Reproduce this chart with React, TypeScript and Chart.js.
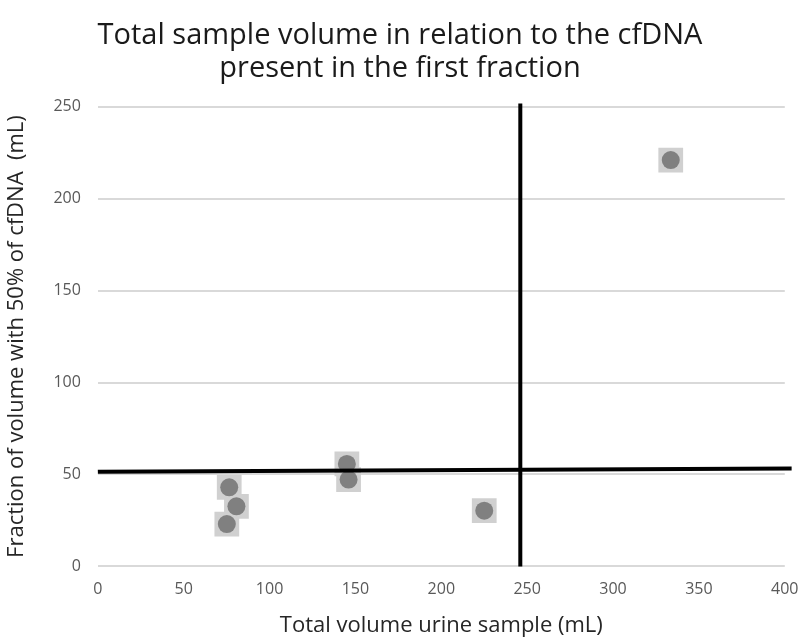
import React, { useEffect, useRef } from "react";
import { Chart, registerables } from "chart.js";

Chart.register(...registerables);

const titleLines = ["Total sample volume in relation to the cfDNA", "present in the first fraction"];
const xAxisTitle = "Total volume urine sample (mL)";
const yAxisTitle = "Fraction of volume with 50% of cfDNA  (mL)";

const sampleX = [76.5, 80.7, 75.1, 145, 146, 225, 333.6];
const sampleY = [43, 32.7, 23, 55.7, 47.2, 30.3, 221];

const verticalLineX = [246, 246];
const verticalLineY = [0, 251.8];
const horizontalLineX = [0, 404];
const horizontalLineY = [51.5, 53.2];

const FONT = "'Open Sans', sans-serif";

export default function App() {
  const ref = useRef<HTMLCanvasElement | null>(null);
  useEffect(() => {
    if (!ref.current) return;
    const pts = sampleX.map((x, i) => ({ x, y: sampleY[i] }));
    const chart = new Chart(ref.current, {
      type: "scatter",
      data: {
        datasets: [
          {
            label: "vline",
            data: verticalLineX.map((x, i) => ({ x, y: verticalLineY[i] })),
            showLine: true,
            borderColor: "#000000",
            borderWidth: 4,
            pointRadius: 0,
            clip: false,
            order: 0,
          },
          {
            label: "hline",
            data: horizontalLineX.map((x, i) => ({ x, y: horizontalLineY[i] })),
            showLine: true,
            borderColor: "#000000",
            borderWidth: 4,
            pointRadius: 0,
            clip: false,
            order: 0,
          },
          {
            label: "circle",
            data: pts,
            pointStyle: "circle",
            pointRadius: 9,
            backgroundColor: "#808080",
            borderWidth: 0,
            order: 1,
          },
          {
            label: "square",
            data: pts,
            pointStyle: "rect",
            pointRadius: 17.5,
            backgroundColor: "#d0d0d0",
            borderWidth: 0,
            order: 2,
          },
        ],
      },
      options: {
        animation: false,
        responsive: false,
        layout: { padding: { left: 0, right: 12, top: 0, bottom: 0 } },
        plugins: {
          legend: { display: false },
          tooltip: { enabled: false },
          title: {
            display: true,
            text: titleLines,
            color: "#1a1a1a",
            font: { family: FONT, size: 29, weight: "normal", lineHeight: 1.15 },
            padding: { top: 19, bottom: 21 },
          },
        },
        scales: {
          x: {
            type: "linear",
            min: 0,
            max: 400,
            ticks: { stepSize: 50, color: "#595959", font: { family: FONT, size: 16 }, padding: 13.5 },
            grid: { display: false, drawTicks: false },
            border: { display: false },
            title: {
              display: true,
              text: xAxisTitle,
              color: "#262626",
              font: { family: FONT, size: 22, lineHeight: 1.2 },
              padding: { top: 0, bottom: 0 },
            },
          },
          y: {
            type: "linear",
            min: 0,
            max: 250,
            ticks: { stepSize: 50, color: "#595959", font: { family: FONT, size: 16 }, padding: 17 },
            grid: { color: "#d9d9d9", lineWidth: 2, drawTicks: false },
            border: { display: false },
            title: {
              display: true,
              text: yAxisTitle,
              color: "#262626",
              font: { family: FONT, size: 22, lineHeight: 1.2 },
              padding: { top: 4, bottom: 6 },
            },
          },
        },
      },
    });
    return () => chart.destroy();
  }, []);
  return (
    <div style={{ position: "fixed", left: 0, top: 0, width: 800, height: 639, overflow: "hidden", background: "#ffffff" }}>
      <canvas ref={ref} width={812} height={639} style={{ display: "block" }} />
    </div>
  );
}
